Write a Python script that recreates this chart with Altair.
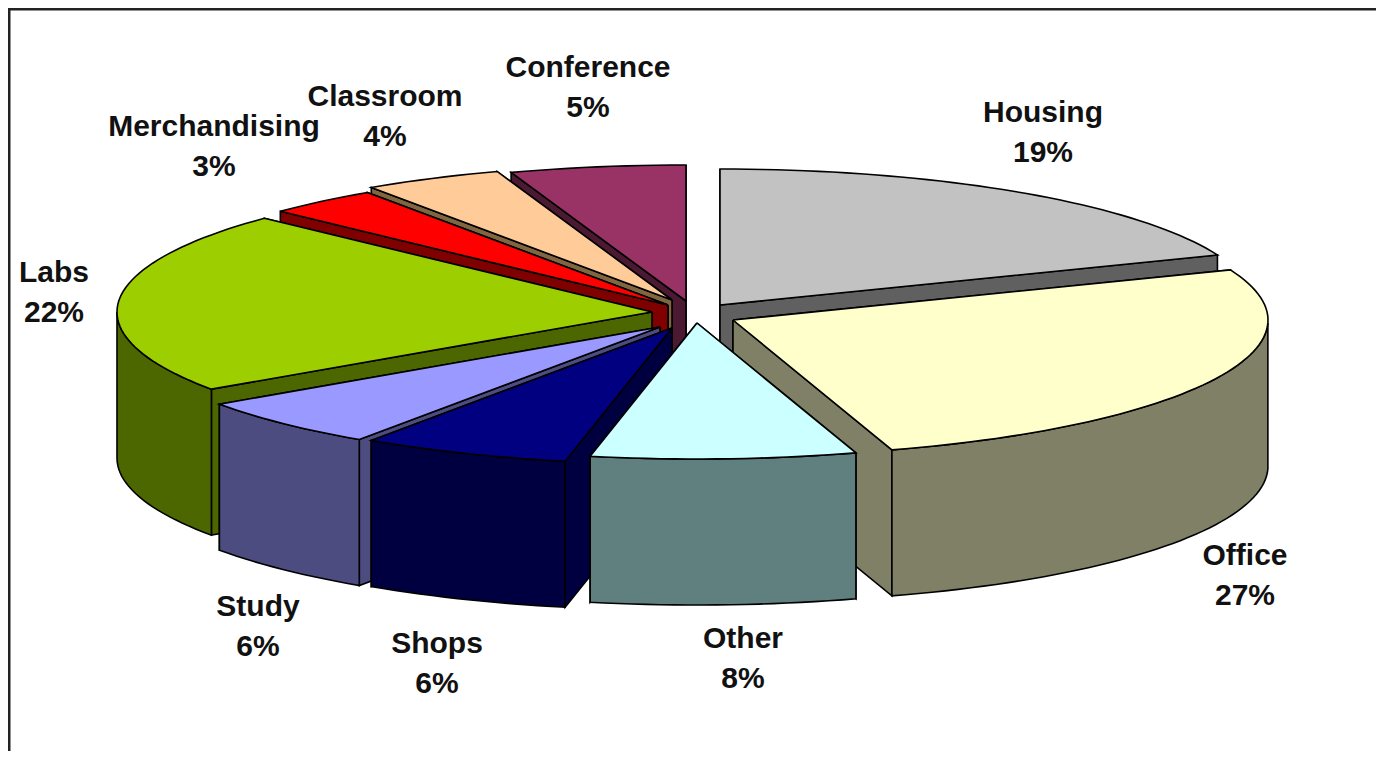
import math
import altair as alt
import pandas as pd

# ---- data -----------------------------------------------------------------
categories = ["Housing", "Office", "Other", "Shops", "Study", "Labs",
              "Merchandising", "Classroom", "Conference"]
labels = ["19%", "27%", "8%", "6%", "6%", "22%", "3%", "4%", "5%"]
shares = [19.0, 26.2, 8.0, 6.3, 5.9, 21.7, 3.4, 4.2, 5.3]

# ---- styling / layout (separate from values) -------------------------------
top_colors = ["#C2C2C2", "#FFFFCC", "#CCFFFF", "#000080", "#9999FF",
              "#9DCE00", "#FF0000", "#FFCC99", "#993366"]
side_colors = ["#606060", "#808066", "#608080", "#000040", "#4C4C80",
               "#4C6600", "#800000", "#806640", "#4C1933"]
# how far each slice is pulled out of the pie, px on screen
pull_x = [37, 50, 14, -11, -23, -31, -15, -11, 3]
pull_y = [-7, 8, 11, 16, 15, 0, -7, -12, -11]
# painter's order: back to front
draw_order = ["Conference", "Classroom", "Merchandising", "Housing", "Labs",
              "Study", "Shops", "Office", "Other"]
label_x = [1043, 1245, 743, 437, 258, 54, 214, 385, 588]
label_y = [113, 556, 639, 644, 607, 273, 127, 97, 68]

W, H = 1368, 743
CX, CY = 683, 312          # page pixels of the pie centre
RX, RY = 535, 136          # ellipse radii, px
DEPTH = 146 / RY           # wall height in pie units

x_dom = [(8 - CX) / RX, (8 + W - CX) / RX]
y_dom = [(CY - 8 - H) / RY, (CY - 8) / RY]


def ex(a):
    return math.sin(math.radians(a))


def ey(a):
    return math.cos(math.radians(a))


rows = []
poly_no = 0


def add_poly(pts, fill):
    global poly_no
    name = f"p{poly_no:04d}"
    poly_no += 1
    closed = list(pts) + [pts[0]]
    for i, (x, y) in enumerate(closed):
        rows.append({"poly": name, "i": i, "x": x, "y": y, "fill": fill})


total = sum(shares)
start = {}
acc = 0.0
for c, s in zip(categories, shares):
    start[c] = (acc / total * 360, (acc + s) / total * 360)
    acc += s

for name in draw_order:
    k = categories.index(name)
    a0, a1 = start[name]
    ox, oy = pull_x[k] / RX, -pull_y[k] / RY
    steps = max(2, int((a1 - a0) / 1.5))
    angs = [a0 + (a1 - a0) * j / steps for j in range(steps + 1)]
    rim = [(ox + ex(a), oy + ey(a)) for a in angs]
    low = [(x, y - DEPTH) for x, y in rim]
    apex = (ox, oy)
    apex_low = (ox, oy - DEPTH)
    # cut faces: the one that reaches further back goes first
    ends = sorted([(rim[0], low[0]), (rim[-1], low[-1])], key=lambda e: -e[0][1])
    for r, l in ends:
        add_poly([apex, r, l, apex_low], side_colors[k])
    # outer wall: only the arc part that faces the viewer
    front = [a for a in angs if 90 <= a <= 270]
    if len(front) >= 2:
        up = [(ox + ex(a), oy + ey(a)) for a in front]
        dn = [(x, y - DEPTH) for x, y in up]
        add_poly(up + dn[::-1], side_colors[k])
    # top
    add_poly([apex] + rim, top_colors[k])

df = pd.DataFrame(rows)

xs = alt.Scale(domain=x_dom, nice=False, zero=False)
ys = alt.Scale(domain=y_dom, nice=False, zero=False)
X = alt.X("x:Q", scale=xs, axis=None)
Y = alt.Y("y:Q", scale=ys, axis=None)

pie = alt.Chart(df).mark_line(stroke="#000000", strokeWidth=1.6, interpolate="linear").encode(
    x=X, y=Y,
    detail="poly:N",
    fill=alt.Fill("fill:N", scale=None),
    order=alt.Order("i:Q"),
)

label_df = pd.DataFrame({
    "x": [(v - CX) / RX for v in label_x],
    "y": [(CY - v) / RY for v in label_y],
    "y2": [(CY - v - 40) / RY for v in label_y],
    "name": categories,
    "pct": labels,
})
font = dict(font="Liberation Sans", fontWeight="bold", fontSize=30,
            color="#111111", align="center", baseline="middle")
names = alt.Chart(label_df).mark_text(**font).encode(x=X, y=Y, text="name:N")
pcts = alt.Chart(label_df).mark_text(**font).encode(
    x=X, y=alt.Y("y2:Q", scale=ys, axis=None), text="pct:N")

frame_top = alt.Chart(pd.DataFrame({"a": [0]})).mark_rule(color="#222222", strokeWidth=3).encode(
    x=alt.value(0), x2=alt.value(W), y=alt.value(1))
frame_left = alt.Chart(pd.DataFrame({"a": [0]})).mark_rule(color="#222222", strokeWidth=3).encode(
    y=alt.value(0), y2=alt.value(H), x=alt.value(1))

chart = (pie + names + pcts + frame_top + frame_left).properties(
    width=W, height=H, padding=0, background="#FFFFFF",
    autosize=alt.AutoSizeParams(type="none"),
).configure_view(stroke=None)

chart.save("out.html", embed_options={"renderer": "svg", "actions": False})
